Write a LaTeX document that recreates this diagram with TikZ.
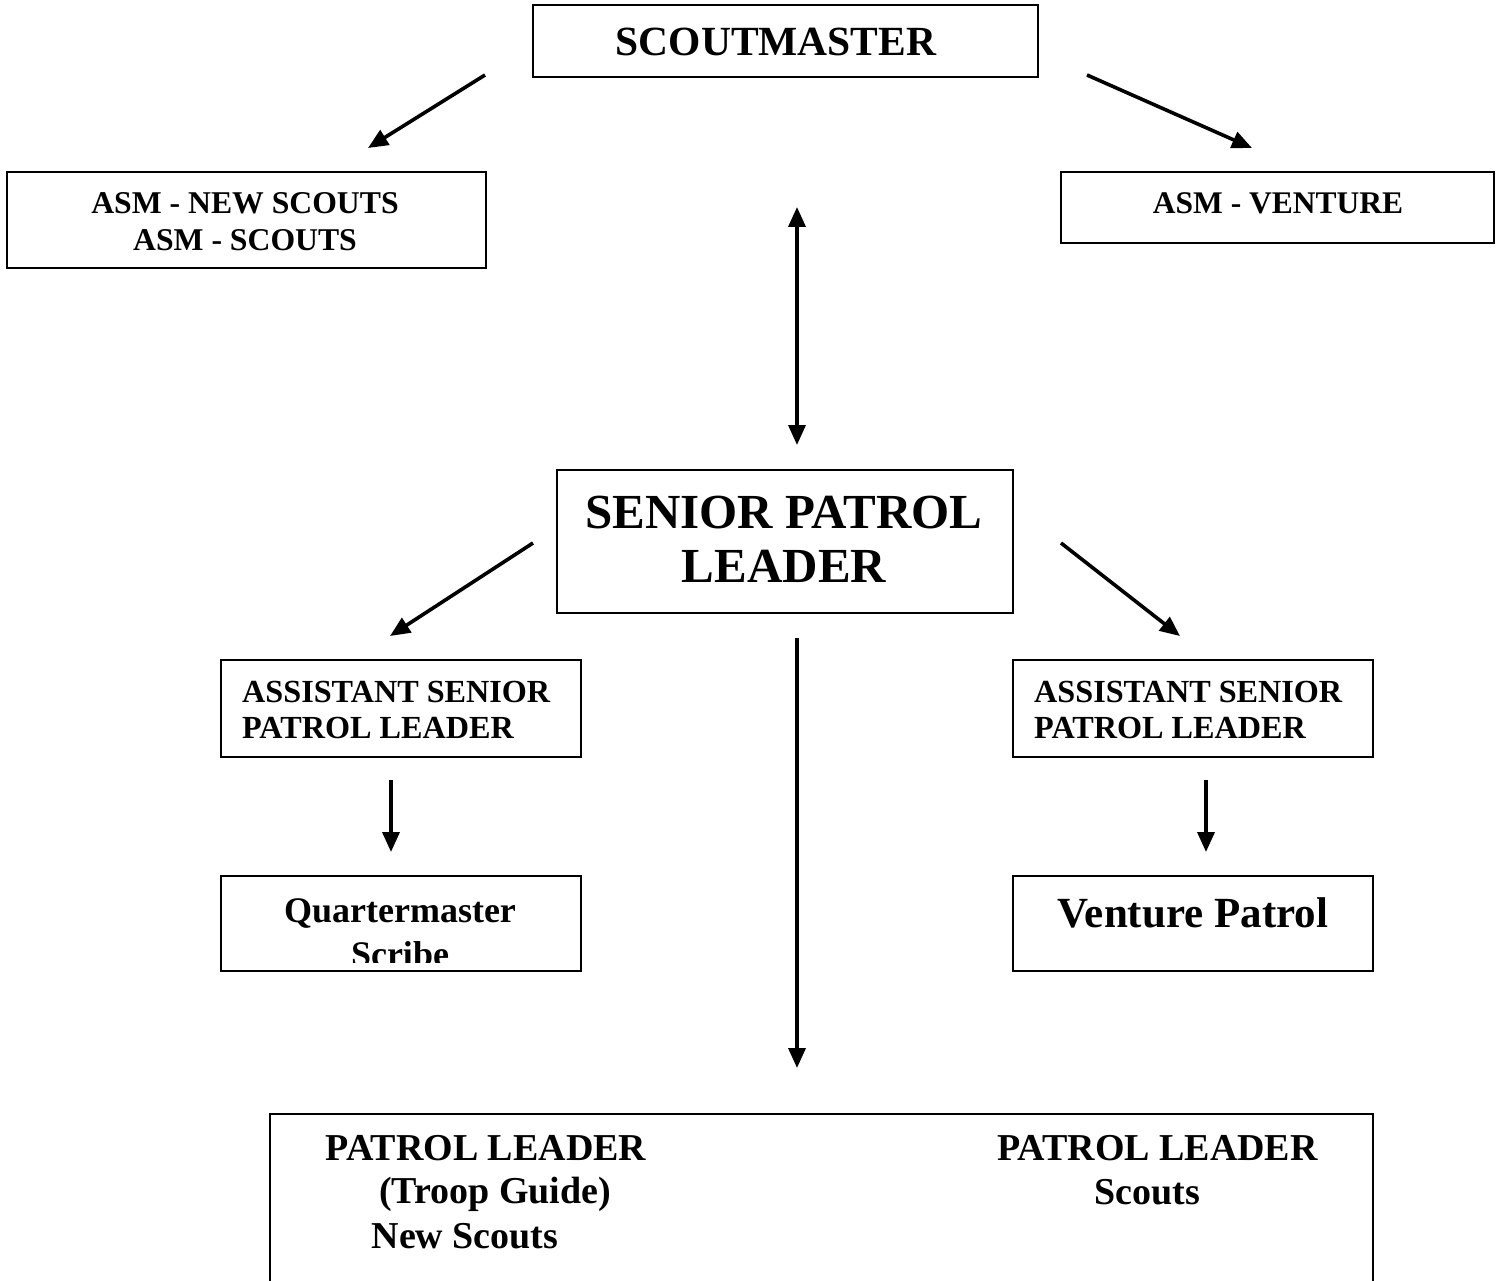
\documentclass[tikz,border=0pt]{standalone}
\usepackage{fontspec}
\setmainfont{Liberation Serif}
\usetikzlibrary{arrows.meta}
\begin{document}
\begin{tikzpicture}[x=1pt,y=-1pt,
  box/.style={draw,line width=1.6pt,inner sep=0pt},
  lbl/.style={inner sep=0pt,align=center,font=\bfseries},
  arr/.style={line width=3.6pt,-{Triangle[length=20pt,width=17pt]}},
  darr/.style={line width=3.6pt,{Triangle[length=20pt,width=17pt]}-{Triangle[length=20pt,width=17pt]}}]
\useasboundingbox (0,0) rectangle (1501,1281);
\clip (0,0) rectangle (1501,1281);
% boxes
\node[box,minimum width=505pt,minimum height=72pt] (sm) at (785.5,41) {};
\node[box,minimum width=479pt,minimum height=96pt] (asmn) at (246.5,220) {};
\node[box,minimum width=433pt,minimum height=71pt] (asmv) at (1277.5,207.5) {};
\node[box,minimum width=456pt,minimum height=143pt] (spl) at (785,541.5) {};
\node[box,minimum width=360pt,minimum height=97pt] (aspla) at (401,708.5) {};
\node[box,minimum width=360pt,minimum height=97pt] (asplb) at (1193,708.5) {};
\node[box,minimum width=360pt,minimum height=95pt] (qm) at (401,923.5) {};
\node[box,minimum width=360pt,minimum height=95pt] (vp) at (1193,923.5) {};
\node[box,minimum width=1103pt,minimum height=220pt] (pl) at (821.5,1224) {};
% texts
\node[lbl,font=\bfseries\fontsize{41.5}{48}\selectfont] (smt) at (776,42) {SCOUTMASTER};
\node[lbl,font=\bfseries\fontsize{31.7}{37}\selectfont] (asmnt) at (245,221.5) {ASM - NEW SCOUTS\\ASM - SCOUTS};
\node[lbl,font=\bfseries\fontsize{31.5}{37}\selectfont] (asmvt) at (1278,203) {ASM - VENTURE};
\node[lbl,font=\bfseries\fontsize{49}{54}\selectfont] (splt) at (784,539) {SENIOR PATROL\\LEADER};
\node[lbl,align=left,anchor=west,font=\bfseries\fontsize{32.2}{36}\selectfont] (asplat) at (242,710) {ASSISTANT SENIOR\\PATROL LEADER};
\node[lbl,align=left,anchor=west,font=\bfseries\fontsize{32.2}{36}\selectfont] (asplbt) at (1034,710) {ASSISTANT SENIOR\\PATROL LEADER};
\begin{scope}
\clip ([xshift=-2pt]qm.north west) rectangle (582,962);
\node[lbl,font=\bfseries\fontsize{36}{44}\selectfont,anchor=base] (qmt) at (400,966) {Quartermaster\\Scribe};
\end{scope}
\node[lbl,font=\bfseries\fontsize{43}{48}\selectfont] (vpt) at (1193,913) {Venture Patrol};
\node[lbl,font=\bfseries\fontsize{38}{44}\selectfont] (pla) at (486,1148) {PATROL LEADER};
\node[lbl,font=\bfseries\fontsize{38}{44}\selectfont] (plb) at (495,1194) {(Troop Guide)};
\node[lbl,font=\bfseries\fontsize{38}{44}\selectfont] (plc) at (465,1236) {New Scouts};
\node[lbl,font=\bfseries\fontsize{38}{44}\selectfont] (pld) at (1157.5,1148) {PATROL LEADER};
\node[lbl,font=\bfseries\fontsize{38}{44}\selectfont] (ple) at (1147,1192) {Scouts};
% arrow ends
\coordinate (a1s) at (485,75);   \coordinate (a1e) at (368,148);
\coordinate (a2s) at (1087,75);  \coordinate (a2e) at (1252,148);
\coordinate (d1s) at (797,207);  \coordinate (d1e) at (797,445);
\coordinate (a3s) at (533,543);  \coordinate (a3e) at (390,636);
\coordinate (a4s) at (1061,543); \coordinate (a4e) at (1180,636);
\coordinate (a5s) at (797,638);  \coordinate (a5e) at (797,1068);
\coordinate (a6s) at (391,780);  \coordinate (a6e) at (391,852);
\coordinate (a7s) at (1206,780); \coordinate (a7e) at (1206,852);
\draw[arr] (a1s) -- (a1e);
\draw[arr] (a2s) -- (a2e);
\draw[darr] (d1s) -- (d1e);
\draw[arr] (a3s) -- (a3e);
\draw[arr] (a4s) -- (a4e);
\draw[arr] (a5s) -- (a5e);
\draw[arr] (a6s) -- (a6e);
\draw[arr] (a7s) -- (a7e);
\end{tikzpicture}
\end{document}
